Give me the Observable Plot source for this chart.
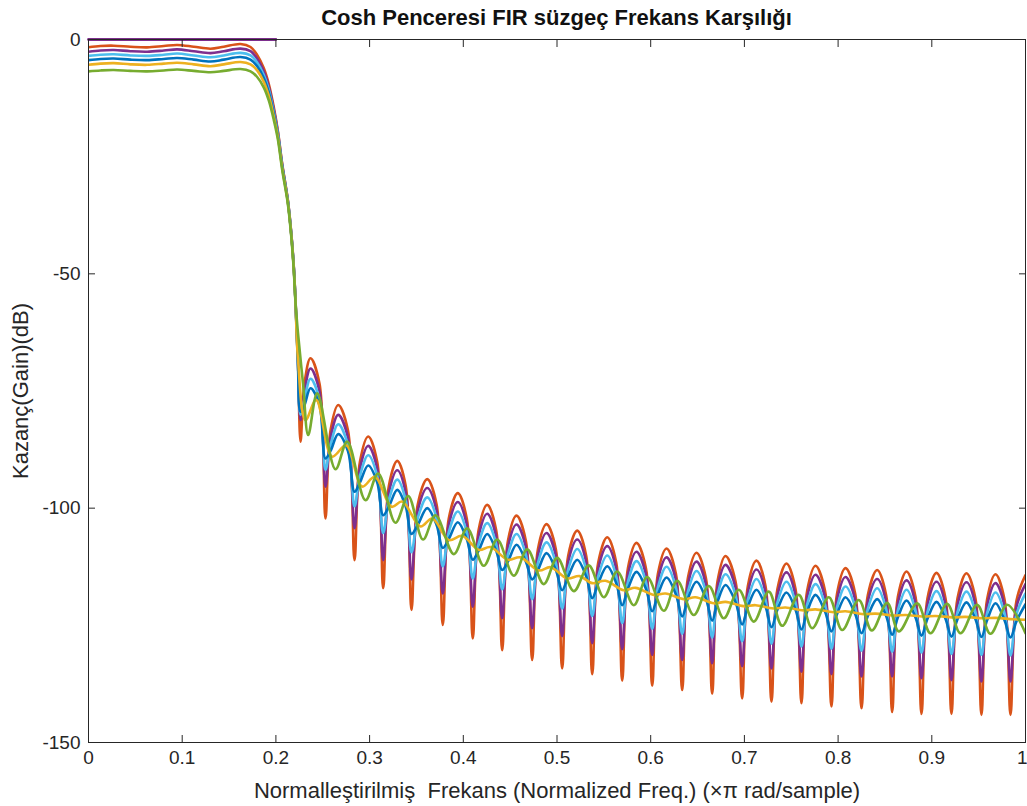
<!DOCTYPE html>
<html><head><meta charset="utf-8">
<script src="https://cdn.jsdelivr.net/npm/d3@7"></script>
<script src="https://cdn.jsdelivr.net/npm/@observablehq/plot@0.6"></script>
<style>
body{margin:0;background:#fff;font-family:"Liberation Sans",Arial,Helvetica,sans-serif;overflow:hidden;}
#wrap{position:relative;width:1027px;height:806px;}
#title{position:absolute;left:0;top:0;width:1027px;height:36px;line-height:36px;padding-left:88px;padding-right:2px;box-sizing:border-box;text-align:center;font-weight:bold;font-size:22px;color:#111;z-index:2;}
#chart svg{display:block;}
</style></head><body>
<div id="wrap">
<div id="title">Cosh Penceresi FIR süzgeç Frekans Karşılığı</div>
<div id="chart"></div>
</div>
<script>
// ---- text ----
const xLabel = "Normalleştirilmiş  Frekans (Normalized Freq.) (×π rad/sample)";
const yLabel = "Kazanç(Gain)(dB)";
const xTicks = [0, 0.1, 0.2, 0.3, 0.4, 0.5, 0.6, 0.7, 0.8, 0.9, 1];
const xTickLabels = ["0", "0.1", "0.2", "0.3", "0.4", "0.5", "0.6", "0.7", "0.8", "0.9", "1"];
const yTicks = [-150, -100, -50, 0];
const yTickLabels = ["-150", "-100", "-50", "0"];

// ---- series (six cosh-window filters) ----
const seriesNames = ["w1", "w2", "w3", "w4", "w5", "w6"];
const seriesColors = ["#D95319", "#7E2F8E", "#4DBEEE", "#0072BD", "#EDB120", "#77AC30"];

// ideal response (0 dB passband up to 0.2)
const idealX = [0, 0.2];
const idealY = [0, 0];

// passband + transition band (shared x)
const bandX = [0, 0.0128, 0.027, 0.0448, 0.0626, 0.0804, 0.0946, 0.1124, 0.1302, 0.1444, 0.1622, 0.1729, 0.180, 0.187, 0.1924, 0.1978, 0.2021, 0.2067, 0.2127, 0.2164, 0.2191, 0.2209, 0.2235];
const band1 = [-1.67, -1.39, -1.32, -1.54, -1.67, -1.39, -1.17, -1.54, -1.96, -1.54, -0.96, -1.6, -3.3, -6.1, -9.5, -14.5, -19.5, -26.5, -34.2, -41.3, -48.5, -55.5, -68];
const band2 = [-2.6, -2.35, -2.25, -2.5, -2.6, -2.35, -2.1, -2.5, -2.9, -2.5, -1.95, -2.5, -4.1, -6.8, -10.1, -15.0, -19.8, -26.7, -34.3, -41.4, -48.6, -55.7, -68.5];
const band3 = [-3.5, -3.25, -3.15, -3.4, -3.5, -3.25, -3.0, -3.4, -3.8, -3.4, -2.85, -3.4, -4.9, -7.5, -10.7, -15.5, -20.1, -26.9, -34.4, -41.5, -48.7, -55.8, -68.8];
const band4 = [-4.4, -4.15, -4.05, -4.3, -4.4, -4.15, -3.95, -4.3, -4.7, -4.3, -3.75, -4.3, -5.7, -8.2, -11.3, -15.9, -20.4, -27.1, -34.5, -41.6, -48.8, -55.9, -69.0];
const band5 = [-5.4, -5.15, -5.05, -5.3, -5.4, -5.15, -4.95, -5.3, -5.7, -5.3, -4.8, -5.3, -6.6, -9.0, -12.0, -16.5, -20.8, -27.4, -34.7, -41.7, -49.0, -56.0, -68.0];
const band6 = [-6.8, -6.6, -6.5, -6.7, -6.8, -6.6, -6.4, -6.7, -7.0, -6.7, -6.3, -6.8, -8.0, -10.2, -13.0, -17.2, -21.3, -27.8, -35.0, -42.0, -49.3, -56.0, -62.5];

// stopband lobes of the in-phase series (shared x positions)
const nullX = [0.2263, 0.2529, 0.2839, 0.3145, 0.3447, 0.3781, 0.4101, 0.4415, 0.4735, 0.5055, 0.5376, 0.5696, 0.6016, 0.6336, 0.6656, 0.6976, 0.7289, 0.7609, 0.7929, 0.8250, 0.8577, 0.8890, 0.9210, 0.9530, 0.9840];
const shoulderLX = [0.2305, 0.2583, 0.2897, 0.3205, 0.3514, 0.3845, 0.4163, 0.4476, 0.4796, 0.5119, 0.5440, 0.5757, 0.6077, 0.6397, 0.6713, 0.7037, 0.7353, 0.7669, 0.7989, 0.8317, 0.8638, 0.8954, 0.9274, 0.9590, 0.9904];
const peakX = [0.2369, 0.2665, 0.2985, 0.3295, 0.3615, 0.3941, 0.4255, 0.4568, 0.4888, 0.5216, 0.5536, 0.5848, 0.6169, 0.6489, 0.6798, 0.7129, 0.7449, 0.7759, 0.8079, 0.8417, 0.8730, 0.9050, 0.9370, 0.9680, 1.0];
const shoulderRX = [0.2465, 0.2769, 0.3081, 0.3386, 0.3715, 0.4037, 0.4351, 0.4668, 0.4988, 0.5312, 0.5632, 0.5949, 0.6269, 0.6589, 0.6905, 0.7225, 0.7545, 0.7861, 0.8182, 0.8513, 0.8826, 0.9146, 0.9466, 0.9776];

const peaks1 = [-68.0, -78.0, -84.7, -89.9, -93.8, -96.8, -99.3, -101.6, -103.4, -104.8, -106.2, -107.4, -108.6, -109.5, -110.2, -111.2, -111.8, -112.3, -112.8, -113.2, -113.5, -113.8, -113.9, -114.1, -114.3];
const shoulders1 = [-73.4, -83.4, -90.1, -95.3, -99.2, -102.2, -104.7, -107.0, -108.8, -110.2, -111.6, -112.8, -114.0, -114.9, -115.6, -116.6, -117.2, -117.7, -118.2, -118.6, -118.9, -119.2, -119.3, -119.5, -119.7];
const nulls1 = [-85.8, -102.2, -111.1, -117.1, -121.7, -124.9, -127.8, -130.3, -132.4, -134.2, -135.4, -136.8, -137.9, -138.8, -139.6, -140.6, -141.3, -141.6, -142.3, -142.7, -143.5, -143.9, -143.9, -144.1, -144.1];

const peaks2 = [-70.2, -80.1, -86.7, -91.9, -95.7, -98.7, -101.2, -103.5, -105.3, -106.7, -108.1, -109.3, -110.5, -111.4, -112.1, -113.1, -113.7, -114.2, -114.7, -115.1, -115.4, -115.7, -115.8, -116.0, -116.2];
const shoulders2 = [-75.0, -84.9, -91.5, -96.7, -100.5, -103.5, -106.0, -108.3, -110.1, -111.5, -112.9, -114.1, -115.3, -116.2, -116.9, -117.9, -118.5, -119.0, -119.5, -119.9, -120.2, -120.5, -120.6, -120.8, -121.0];
const nulls2 = [-81.2, -95.4, -104.3, -111.1, -115.2, -118.2, -121.0, -123.5, -125.6, -127.3, -128.8, -130.1, -131.3, -132.4, -133.1, -133.7, -134.2, -134.9, -135.4, -135.9, -135.9, -136.3, -136.7, -137.0, -137.0];

const peaks3 = [-72.4, -82.1, -88.7, -93.9, -97.7, -100.7, -103.2, -105.5, -107.3, -108.7, -110.1, -111.3, -112.5, -113.4, -114.1, -115.1, -115.7, -116.2, -116.7, -117.1, -117.4, -117.7, -117.8, -118.0, -118.2];
const shoulders3 = [-76.8, -86.5, -93.1, -98.3, -102.1, -105.1, -107.6, -109.9, -111.7, -113.1, -114.5, -115.7, -116.9, -117.8, -118.5, -119.5, -120.1, -120.6, -121.1, -121.5, -121.8, -122.1, -122.2, -122.4, -122.6];
const nulls3 = [-80.1, -91.8, -99.6, -105.3, -109.4, -112.4, -115.0, -117.3, -119.4, -121.4, -123.0, -124.5, -125.7, -126.8, -127.6, -128.4, -128.9, -129.5, -130.0, -130.4, -130.6, -130.8, -131.1, -131.3, -131.4];

const peaks4 = [-74.4, -84.2, -90.9, -96.1, -100.0, -103.0, -105.5, -107.8, -109.6, -111.0, -112.4, -113.6, -114.8, -115.7, -116.4, -117.4, -118.0, -118.5, -119.0, -119.4, -119.7, -120.0, -120.1, -120.3, -120.5];
const shoulders4 = [-78.0, -87.8, -94.5, -99.7, -103.6, -106.6, -109.1, -111.4, -113.2, -114.6, -116.0, -117.2, -118.4, -119.3, -120.0, -121.0, -121.6, -122.1, -122.6, -123.0, -123.3, -123.6, -123.7, -123.9, -124.1];
const nulls4 = [-79.4, -89.4, -96.5, -101.5, -105.5, -108.5, -111.0, -113.2, -115.2, -117.5, -119.2, -120.7, -122.0, -123.1, -124.0, -124.8, -125.4, -125.9, -126.3, -126.7, -127.0, -127.2, -127.4, -127.5, -127.6];

// stopband of the two smoother series (own x positions)
const tail5X = [0.2316, 0.2430, 0.2600, 0.2750, 0.2921, 0.3056, 0.3234, 0.3348, 0.3543, 0.3670, 0.3845, 0.3987, 0.4165, 0.4290, 0.4475, 0.4610, 0.4806, 0.4931, 0.5109, 0.5240, 0.5376, 0.5518, 0.5713, 0.5838, 0.6033, 0.6158, 0.6354, 0.6478, 0.6674, 0.6800, 0.6990, 0.7120, 0.7310, 0.7440, 0.7630, 0.7760, 0.7950, 0.8080, 0.8270, 0.8400, 0.8590, 0.8720, 0.8910, 0.9040, 0.9230, 0.9360, 0.9550, 0.9680, 0.9870, 1.0];
const tail5Y = [-81.2, -76.9, -89.0, -86.6, -95.4, -93.3, -99.7, -98.6, -103.9, -102.2, -106.8, -105.9, -108.9, -108.3, -111.0, -110.5, -113.3, -112.6, -115.0, -114.5, -116.0, -115.5, -117.5, -117.0, -118.5, -118.2, -119.4, -119.0, -120.3, -120.0, -120.9, -120.7, -121.4, -121.2, -121.8, -121.6, -122.2, -122.0, -122.6, -122.5, -122.9, -122.8, -123.1, -123.0, -123.3, -123.2, -123.5, -123.4, -123.7, -123.8];
const tail6X = [0.2290, 0.2345, 0.2441, 0.2636, 0.2761, 0.2956, 0.3092, 0.3276, 0.3412, 0.3570, 0.3703, 0.3899, 0.4041, 0.4219, 0.4362, 0.4539, 0.4682, 0.4859, 0.5002, 0.5180, 0.5339, 0.5500, 0.5642, 0.5820, 0.5962, 0.6140, 0.6283, 0.6460, 0.6620, 0.6780, 0.6940, 0.7100, 0.7260, 0.7403, 0.7580, 0.7724, 0.7901, 0.8044, 0.8221, 0.8360, 0.8524, 0.8648, 0.8844, 0.8986, 0.9164, 0.9306, 0.9484, 0.9626, 0.9805, 1.0];
const tail6Y = [-73.5, -84.4, -75.5, -91.7, -85.8, -98.3, -92.6, -103.1, -97.4, -106.7, -101.5, -109.8, -104.3, -112.3, -106.7, -114.4, -108.8, -116.2, -110.6, -117.7, -112.2, -119.0, -113.5, -120.7, -114.7, -121.9, -115.5, -122.8, -116.6, -123.5, -117.4, -124.2, -117.8, -125.1, -118.5, -125.6, -119.0, -126.0, -119.6, -126.1, -120.2, -126.3, -120.3, -126.7, -120.4, -126.7, -120.6, -126.8, -120.6, -126.7];

// ---- build tables ----
function bandRows(name, band) {
  return bandX.map((x, i) => ({series: name, x, y: band[i]}));
}
function lobeRows(name, band, peaks, shoulders, nulls) {
  const rows = bandRows(name, band);
  for (let i = 0; i < peakX.length; i++) {
    rows.push({series: name, x: nullX[i], y: nulls[i]});
    rows.push({series: name, x: shoulderLX[i], y: shoulders[i]});
    rows.push({series: name, x: peakX[i], y: peaks[i]});
    if (i < shoulderRX.length) rows.push({series: name, x: shoulderRX[i], y: shoulders[i]});
  }
  return rows;
}
function tailRows(name, band, tx, ty) {
  return bandRows(name, band).concat(tx.map((x, i) => ({series: name, x, y: ty[i]})));
}
const rows = [].concat(
  lobeRows("w1", band1, peaks1, shoulders1, nulls1),
  lobeRows("w2", band2, peaks2, shoulders2, nulls2),
  lobeRows("w3", band3, peaks3, shoulders3, nulls3),
  lobeRows("w4", band4, peaks4, shoulders4, nulls4),
  tailRows("w5", band5, tail5X, tail5Y),
  tailRows("w6", band6, tail6X, tail6Y)
);
const idealRows = idealX.map((x, i) => ({x, y: idealY[i]}));

const axisColor = "#262626";
const lastTick = xTicks.length - 1;
const chart = Plot.plot({
  width: 1027,
  height: 806,
  marginLeft: 88,
  marginRight: 2,
  marginTop: 39,
  marginBottom: 64,
  style: {fontFamily: '"Liberation Sans", Arial, Helvetica, sans-serif', fontSize: "19px", color: axisColor, background: "white"},
  x: {domain: [0, 1]},
  y: {domain: [-150, 0]},
  color: {domain: seriesNames, range: seriesColors},
  marks: [
    Plot.line(rows, {x: "x", y: "y", z: "series", stroke: "series", strokeWidth: 2.6, curve: "catmull-rom", clip: true}),
    Plot.line(idealRows, {x: "x", y: "y", stroke: "#7E2F8E", strokeWidth: 2.8}),
    Plot.frame({stroke: axisColor, strokeWidth: 1}),
    Plot.axisX(xTicks.slice(0, lastTick), {anchor: "bottom", tickSize: -7, tickPadding: 15, tickFormat: d => xTickLabels[xTicks.indexOf(d)], label: null, fontSize: 19, stroke: axisColor}),
    Plot.axisX([xTicks[lastTick]], {anchor: "bottom", tickSize: -7, tickFormat: () => "", label: null, stroke: axisColor}),
    Plot.text([xTicks[lastTick]], {x: d => d, frameAnchor: "bottom", dy: 8, lineAnchor: "top", textAnchor: "end", dx: 2, text: d => xTickLabels[xTicks.indexOf(d)], fontSize: 19, fill: axisColor}),
    Plot.axisX(xTicks, {anchor: "top", tickSize: -7, tickFormat: () => "", label: null, stroke: axisColor}),
    Plot.axisY(yTicks, {anchor: "left", tickSize: -7, tickPadding: 15, tickFormat: d => yTickLabels[yTicks.indexOf(d)], label: null, fontSize: 19, stroke: axisColor}),
    Plot.axisY(yTicks, {anchor: "right", tickSize: -7, tickFormat: () => "", label: null, stroke: axisColor}),
    Plot.text([yLabel], {text: d => d, frameAnchor: "left", textAnchor: "middle", dx: -68, rotate: -90, fontSize: 22, fill: axisColor}),
    Plot.text([xLabel], {text: d => d, frameAnchor: "bottom", textAnchor: "middle", lineAnchor: "middle", dy: 48, fontSize: 22, fill: axisColor})
  ]
});
document.getElementById("chart").appendChild(chart);
</script></body></html>
